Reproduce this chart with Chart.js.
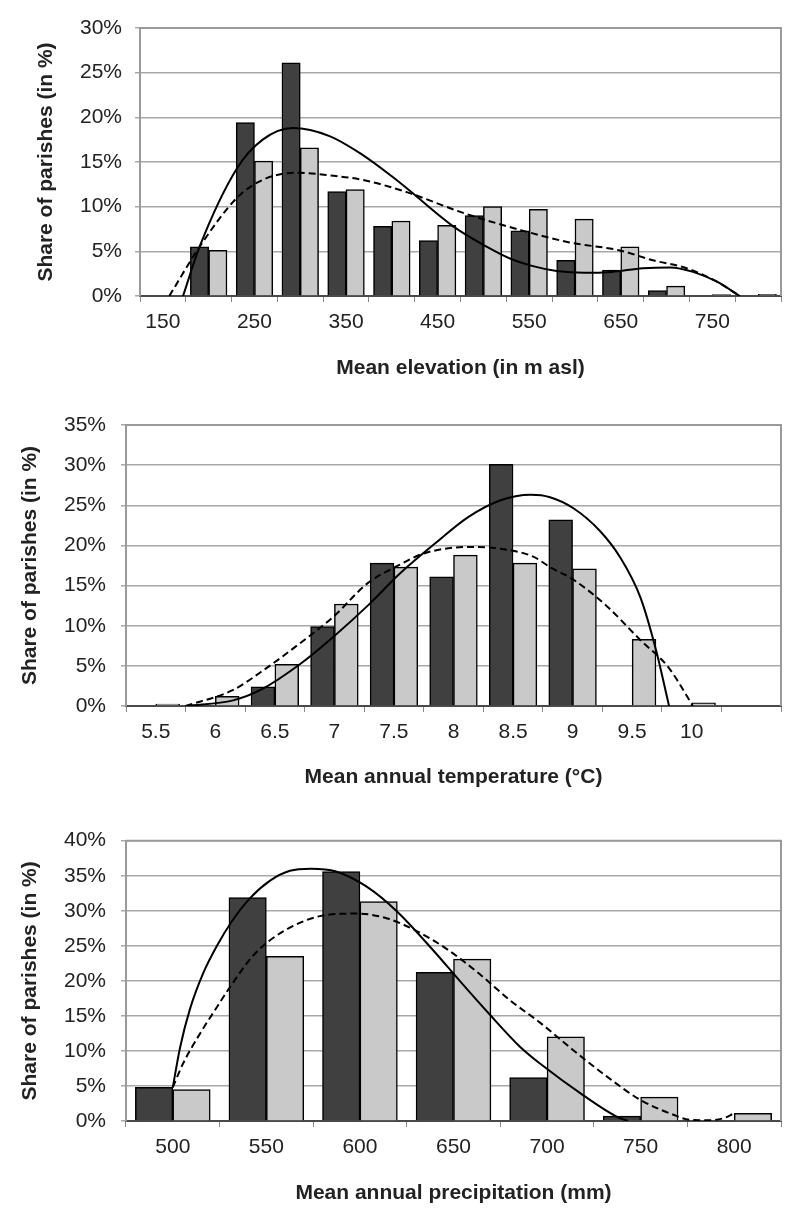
<!DOCTYPE html>
<html>
<head>
<meta charset="utf-8">
<script src="https://cdn.jsdelivr.net/npm/chart.js@4.4.1/dist/chart.umd.min.js"></script>
<style>
body{margin:0;background:#fff;}
canvas{position:absolute;left:0;}
</style>
</head>
<body>
<canvas id="elevChart" width="800" height="390" style="top:0px"></canvas>
<canvas id="tempChart" width="800" height="410" style="top:390px"></canvas>
<canvas id="precChart" width="800" height="423" style="top:800px"></canvas>
<script>
// elevation
const elevCats=['150','200','250','300','350','400','450','500','550','600','650','700','750','800'];
const elevTicks=['150','','250','','350','','450','','550','','650','','750',''];
const elevDark=[null,5.5,19.4,26.1,11.7,7.8,6.2,9.0,7.3,4.0,2.9,0.6,null,null];
const elevLight=[null,5.1,15.1,16.6,11.9,8.4,7.9,10.0,9.7,8.6,5.5,1.1,0.15,0.2];
const elevSolidX=[172,190,231,259,292,332,368,400,417,467,504,529,552,580,610,640,674,704,729,755,780];
const elevSolidY=[0,5.5,14.3,17.5,18.8,17.9,15.8,13.4,12.0,7.8,5.5,4.2,3.4,2.8,2.6,2.7,3.1,3.2,2.7,1.6,0];
const elevDashX=[157,190,231,259,296,332,368,417,478,540,594,649,685,722,755,780];
const elevDashY=[0,5.5,11.0,13.0,13.8,13.5,13.0,11.6,9.3,7.4,6.0,5.1,4.0,3.1,1.6,0];

// temperature
const tempCats=['5.5','6','6.5','7','7.5','8','8.5','9','9.5','10',''];
const tempDark=[null,null,2.4,9.9,17.8,16.1,30.1,23.2,null,null,null];
const tempLight=[0.25,1.2,5.2,12.7,17.3,18.8,17.8,17.1,8.3,0.4,null];
const tempSolidX=[5.76,6.15,6.38,6.71,6.99,7.28,7.55,7.85,8.12,8.39,8.65,8.81,9.01,9.23,9.4,9.57,9.7,9.81];
const tempSolidY=[0,0.7,2.0,5.2,8.6,12.5,16.5,20.3,23.5,25.6,26.3,26.0,24.6,21.8,18.5,13.5,7.0,0];
const tempDashX=[5.75,6.15,6.38,6.71,6.99,7.28,7.55,7.75,8.12,8.39,8.67,8.81,9.01,9.29,9.57,9.8,9.99,10.01];
const tempDashY=[0,2.0,4.2,7.8,11.1,15.3,17.6,19.0,19.8,19.6,18.6,17.3,15.7,12.4,8.2,4.9,0.5,0];

// precipitation
const precCats=['500','550','600','650','700','750','800'];
const precDark=[4.8,31.9,35.6,21.2,6.2,0.7,null];
const precLight=[4.5,23.5,31.3,23.1,12.0,3.4,1.1];
const precSolidX=[500,503.9,509.2,516.1,523.6,531.6,541.3,552,562.6,573.9,587.2,603.8,619.8,639,653,669,685.5,696.2,719.2,737.4,743.3];
const precSolidY=[4.8,10.5,16.0,21.0,25.0,28.5,31.8,34.3,35.7,36.0,35.6,33.4,29.9,24.4,20.1,15.3,10.6,8.2,3.7,0.6,0];
const precDashX=[500,505.5,514.6,523.7,529.5,544,560,582,598.5,614.6,631.1,647.2,663.8,680.3,696.4,714,732.2,749.9,767.5,776.6,785.7,794.3,800];
const precDashY=[4.8,8.2,12.5,16.3,18.7,23.9,27.2,29.4,29.6,28.9,27.0,24.4,21.0,17.2,14.0,10.1,6.3,3.0,0.9,0.15,0.1,0.4,1.1];

Chart.defaults.font.family='"Liberation Sans", Arial, sans-serif';
Chart.defaults.color='#222';

const framePlugin={
id:'frame',
beforeDatasetsDraw(chart){
const a=chart.chartArea;
const c=chart.ctx;
c.save();
c.strokeStyle='#9a9a9a';
c.lineWidth=2;
c.beginPath();
c.moveTo(a.left,a.top);
c.lineTo(a.right,a.top);
c.lineTo(a.right,a.bottom);
c.stroke();
c.restore();
}
};

function points(xs,ys){
return xs.map((x,i)=>({x:x,y:ys[i]}));
}

function drawChart(id,cats,tickLabels,dark,light,solid,dashed,xMin,xMax,yMax,xTitle,box){

// each bar takes 40% of a category slot
let barW=(800-19-box.yw)/cats.length*0.4;

new Chart(document.getElementById(id),{

type:'bar',

data:{

labels:cats,

datasets:[

{type:'line',data:solid,xAxisID:'xl',borderColor:'#000',borderWidth:2,pointRadius:0,cubicInterpolationMode:'monotone',order:0},

{type:'line',data:dashed,xAxisID:'xl',borderColor:'#000',borderWidth:2,borderDash:[7,4],pointRadius:0,cubicInterpolationMode:'monotone',order:0},

{data:dark,backgroundColor:'#404040',borderColor:'#000',borderWidth:1.5,barThickness:barW,order:1},

{data:light,backgroundColor:'#c9c9c9',borderColor:'#000',borderWidth:1.5,barThickness:barW,order:1}

]

},

options:{

responsive:false,

animation:false,

layout:{padding:{left:0,right:19,top:box.top,bottom:box.bottom}},

plugins:{legend:{display:false},tooltip:{enabled:false}},

scales:{

x:{

type:'category',

offset:true,

grid:{offset:true,drawOnChartArea:false,tickLength:6,color:'#888'},

border:{color:'#4a4a4a',width:2},

ticks:{autoSkip:false,maxRotation:0,padding:8,font:{size:21},callback:(v,i)=>tickLabels[i]},

title:{display:true,text:xTitle,font:{size:21,weight:'bold'},padding:0},

afterFit:s=>{s.height=box.xh;}

},

xl:{type:'linear',display:false,offset:false,grid:{offset:false},min:xMin,max:xMax},

y:{

min:0,

max:yMax,

ticks:{stepSize:5,padding:box.tickPad,font:{size:21},callback:v=>v+'%'},

grid:{color:'#a8a8a8',lineWidth:1.5,tickLength:5},

border:{color:'#9a9a9a',width:2},

title:{display:true,text:'Share of parishes (in %)',font:{size:21,weight:'bold'},padding:{top:box.titlePad,bottom:0}},

afterFit:s=>{s.width=box.yw;}

}

}

},

plugins:[framePlugin]

});

}

drawChart('elevChart',elevCats,elevTicks,elevDark,elevLight,
points(elevSolidX,elevSolidY),points(elevDashX,elevDashY),
125,825,30,'Mean elevation (in m asl)',
{top:28,bottom:9,xh:85,yw:140,tickPad:13,titlePad:34});

drawChart('tempChart',tempCats,tempCats,tempDark,tempLight,
points(tempSolidX,tempSolidY),points(tempDashX,tempDashY),
5.25,10.75,35,'Mean annual temperature (°C)',
{top:35,bottom:10,xh:84,yw:126,tickPad:15,titlePad:18});

drawChart('precChart',precCats,precCats,precDark,precLight,
points(precSolidX,precSolidY),points(precDashX,precDashY),
475,825,40,'Mean annual precipitation (mm)',
{top:40.7,bottom:17,xh:85,yw:126,tickPad:15,titlePad:18});
</script>
</body>
</html>
